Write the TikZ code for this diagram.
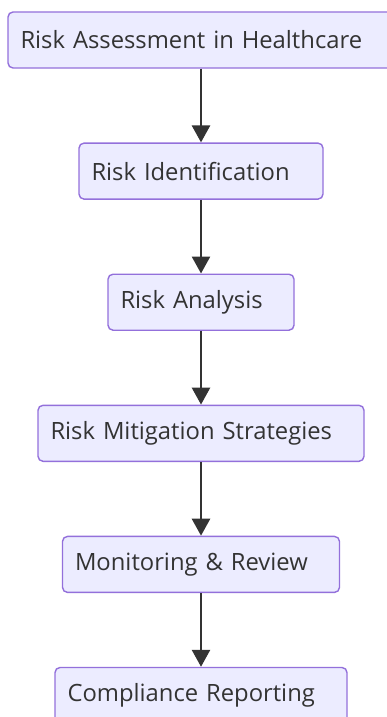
\documentclass[tikz,border=0pt]{standalone}
\usepackage{fontspec}
\setmainfont{Open Sans}
\usetikzlibrary{positioning,arrows.meta}

\definecolor{boxfill}{HTML}{ECECFF}
\definecolor{boxline}{HTML}{9370DB}
\definecolor{ink}{HTML}{333333}

\tikzset{
  stagebox/.style={draw=boxline, fill=boxfill, line width=1.4pt, rounded corners=5pt,
    minimum height=56pt, inner xsep=12.5pt, inner ysep=0pt, align=left,
    text=ink, font=\fontsize{23.8}{28}\selectfont},
  flowarrow/.style={draw=ink, line width=2.7pt, -{Triangle[width=18pt,length=17pt]}}
}

\begin{document}
\begin{tikzpicture}[x=1pt, y=-1pt]
\useasboundingbox (0,0) rectangle (386,717);

%--- Process steps ---
\node[stagebox, text width=361pt] (assess) at (201,40) {Risk Assessment in Healthcare};
\node[stagebox, text width=219pt, below=73.7pt of assess] (ident) {Risk Identification};
\node[stagebox, text width=161pt, below=73.7pt of ident] (analysis) {Risk Analysis};
\node[stagebox, text width=301pt, below=73.7pt of analysis] (mitig) {Risk Mitigation Strategies};
\node[stagebox, text width=252pt, below=73.7pt of mitig] (monitor) {Monitoring \& Review};
\node[stagebox, text width=267pt, below=73.7pt of monitor] (report) {Compliance Reporting};

%--- Connectors ---
\draw[flowarrow] (assess) -- (ident);
\draw[flowarrow] (ident) -- (analysis);
\draw[flowarrow] (analysis) -- (mitig);
\draw[flowarrow] (mitig) -- (monitor);
\draw[flowarrow] (monitor) -- (report);

\end{tikzpicture}
\end{document}
